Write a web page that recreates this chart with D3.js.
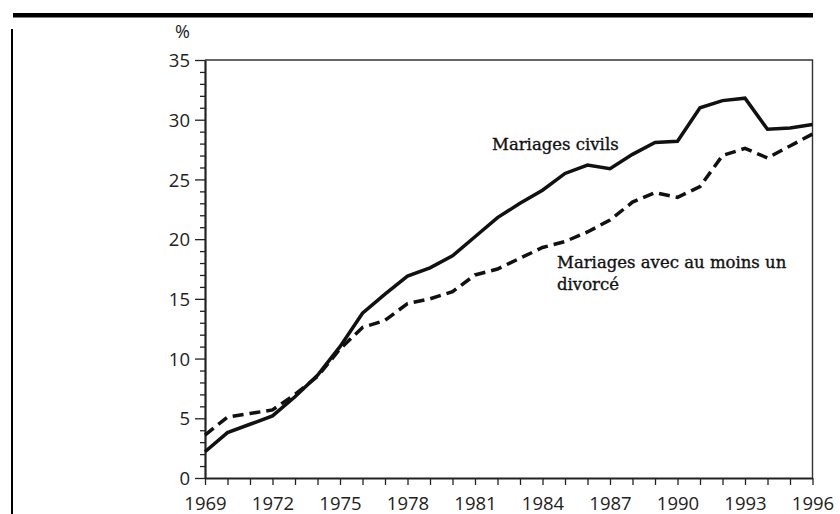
<!DOCTYPE html>
<html>
<head>
<meta charset="utf-8">
<script src="https://cdn.jsdelivr.net/npm/d3@7"></script>
<style>
  html, body { margin: 0; padding: 0; background: #fff; }
  svg { display: block; }
  .tick text { font-family: "Open Sans", sans-serif; font-size: 18.5px; fill: #222; }
  .note { font-family: "DejaVu Serif", serif; font-size: 16.5px; fill: #111; stroke: #111; stroke-width: 0.35px; }
</style>
</head>
<body>
<svg id="chart" width="840" height="514"></svg>
<script>
// Part des mariages (%), 1969-1996
const years = [1969, 1970, 1971, 1972, 1973, 1974, 1975, 1976, 1977, 1978,
               1979, 1980, 1981, 1982, 1983, 1984, 1985, 1986, 1987, 1988,
               1989, 1990, 1991, 1992, 1993, 1994, 1995, 1996];
const civils = [2.2, 3.8, 4.5, 5.2, 6.8, 8.6, 11.0, 13.8, 15.4, 16.9,
                17.6, 18.6, 20.2, 21.8, 23.0, 24.1, 25.5, 26.2, 25.9, 27.1,
                28.1, 28.2, 31.0, 31.6, 31.8, 29.2, 29.3, 29.6];
const avecDivorce = [3.6, 5.1, 5.4, 5.7, 7.0, 8.5, 10.8, 12.6, 13.2, 14.6,
                     15.0, 15.6, 17.0, 17.5, 18.4, 19.3, 19.8, 20.6, 21.6, 23.1,
                     23.9, 23.5, 24.4, 27.0, 27.6, 26.8, 27.8, 28.8];
const yMajorTicks = [0, 5, 10, 15, 20, 25, 30, 35];
const yMinorTicks = [1, 2, 3, 4, 6, 7, 8, 9, 11, 12, 13, 14, 16, 17, 18, 19,
                     21, 22, 23, 24, 26, 27, 28, 29, 31, 32, 33, 34];
const xLabelYears = [1969, 1972, 1975, 1978, 1981, 1984, 1987, 1990, 1993, 1996];

const svg = d3.select("#chart");

const x = d3.scaleLinear().domain([1969, 1996]).range([205, 812.5]);
const y = d3.scaleLinear().domain([0, 35]).range([478, 60]);

// page rules: heavy top bar and left margin line
svg.append("rect").attr("x", 13).attr("y", 13).attr("width", 800).attr("height", 4.5).attr("fill", "#000");
svg.append("line").attr("x1", 12).attr("x2", 12).attr("y1", 29).attr("y2", 514)
  .attr("stroke", "#000").attr("stroke-width", 2);

// frame top and right
svg.append("path")
  .attr("d", `M${x(1969)},${y(35)}H${x(1996)}V${y(0)}`)
  .attr("fill", "none").attr("stroke", "#333").attr("stroke-width", 1.4);

// y axis: minor ticks, then major ticks with labels
svg.append("g").attr("transform", `translate(${x(1969)},0)`)
  .call(d3.axisLeft(y).tickValues(yMinorTicks).tickSize(5).tickFormat(""))
  .call(g => g.select(".domain").remove())
  .call(g => g.selectAll(".tick line").attr("stroke", "#222").attr("stroke-width", 1.3));

svg.append("g").attr("transform", `translate(${x(1969)},0)`)
  .call(d3.axisLeft(y).tickValues(yMajorTicks).tickSize(10).tickSizeOuter(0).tickPadding(5))
  .call(g => g.select(".domain").attr("stroke", "#222").attr("stroke-width", 2.2))
  .call(g => g.selectAll(".tick line").attr("stroke", "#222").attr("stroke-width", 1.3))
  .call(g => g.selectAll(".tick text").attr("dy", "0.36em"));

// x axis: one tick per year, a label every three years
svg.append("g").attr("transform", `translate(0,${y(0)})`)
  .call(d3.axisBottom(x).tickValues(years).tickSize(7).tickSizeOuter(0).tickPadding(12)
    .tickFormat(d => xLabelYears.includes(d) ? String(d) : ""))
  .call(g => g.select(".domain").attr("stroke", "#222").attr("stroke-width", 2))
  .call(g => g.selectAll(".tick line").attr("stroke", "#222").attr("stroke-width", 1.3));

// unit label
svg.append("text").attr("x", 190).attr("y", 38).attr("text-anchor", "end")
  .attr("font-family", "Open Sans, sans-serif").attr("font-size", 18).attr("fill", "#222").text("%");

// series lines
const line = d3.line().x((d, i) => x(years[i])).y(d => y(d));

svg.append("path").datum(civils)
  .attr("d", line).attr("fill", "none").attr("stroke", "#111")
  .attr("stroke-width", 3.5).attr("stroke-linejoin", "miter");

svg.append("path").datum(avecDivorce)
  .attr("d", line).attr("fill", "none").attr("stroke", "#111")
  .attr("stroke-width", 3.5).attr("stroke-dasharray", "11,6");

// series annotations
svg.append("text").attr("class", "note").attr("x", 492).attr("y", 150).text("Mariages civils");
const t2 = svg.append("text").attr("class", "note").attr("x", 557).attr("y", 268);
t2.append("tspan").attr("x", 557).text("Mariages avec au moins un");
t2.append("tspan").attr("x", 557).attr("dy", 22).text("divorcé");
</script>
</body>
</html>
